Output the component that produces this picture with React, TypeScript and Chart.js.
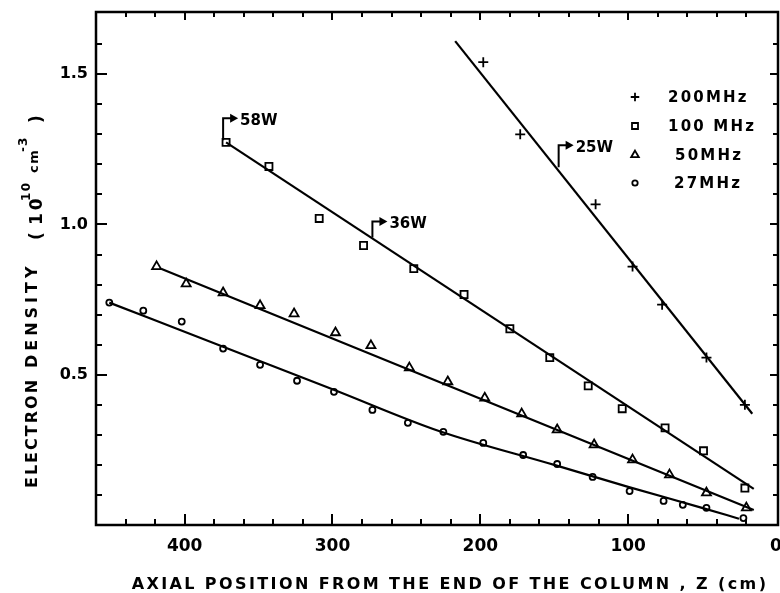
import React, { useEffect, useRef } from 'react';
import { Chart, registerables } from 'chart.js';

Chart.register(...registerables);

const FONT = '"DejaVu Sans", sans-serif';

// ---- series names (legend) ----
const seriesNames = ['200MHz', '100 MHz', '50MHz', '27MHz'];

// ---- 200 MHz (+) ----
const x200 = [198, 173, 122, 97, 77, 47, 21];
const y200 = [1.54, 1.3, 1.067, 0.86, 0.733, 0.557, 0.4];
const fit200X = [217, 16];
const fit200Y = [1.61, 0.37];

// ---- 100 MHz (square) ----
const x100 = [372, 343, 309, 279, 245, 211, 180, 153, 127, 104, 75, 49, 21];
const y100 = [1.273, 1.193, 1.02, 0.93, 0.853, 0.767, 0.653, 0.557, 0.463, 0.387, 0.323, 0.247, 0.123];
const fit100X = [372, 15];
const fit100Y = [1.273, 0.12];

// ---- 50 MHz (triangle) ----
const x50 = [419, 399, 374, 349, 326, 298, 274, 248, 222, 197, 172, 148, 123, 97, 72, 47, 20];
const y50 = [0.86, 0.803, 0.773, 0.73, 0.703, 0.64, 0.597, 0.523, 0.477, 0.423, 0.37, 0.317, 0.267, 0.217, 0.167, 0.107, 0.057];
const fit50X = [416, 15];
const fit50Y = [0.853, 0.05];

// ---- 27 MHz (circle) ----
const x27 = [451, 428, 402, 374, 349, 324, 299, 273, 249, 225, 198, 171, 148, 124, 99, 76, 63, 47, 22];
const y27 = [0.74, 0.713, 0.677, 0.587, 0.533, 0.48, 0.443, 0.383, 0.34, 0.31, 0.273, 0.233, 0.203, 0.16, 0.113, 0.08, 0.067, 0.057, 0.023];
const fit27X = [451, 374, 300, 228, 150, 100, 50, 25];
const fit27Y = [0.74, 0.593, 0.452, 0.313, 0.2, 0.127, 0.057, 0.021];

// ---- power annotations ----
const powerX = [374, 273, 147];
const powerY = [1.28, 0.957, 1.19];
const powerLabels = ['58W', '36W', '25W'];

// ---- ticks ----
const xTickLabels = [0, 100, 200, 300, 400];
const yTickLabels = [0.5, 1.0, 1.5];
const xTickMarks = [20, 40, 60, 80, 100, 120, 140, 160, 180, 200, 220, 240, 260, 280, 300, 320, 340, 360, 380, 400, 420, 440];
const yTickMarks = [0.1, 0.2, 0.3, 0.4, 0.5, 0.6, 0.7, 0.8, 0.9, 1.0, 1.1, 1.2, 1.3, 1.4, 1.5, 1.6];

const xTitle = 'AXIAL POSITION FROM THE END OF THE COLUMN , Z (cm)';
const yTitleParts = ['ELECTRON', 'DENSITY', '(', '10', '10', 'cm', '-3', ')'];

const pointStyles = ['cross', 'rect', 'triangle', 'circle'];
const pointRadii = [5, 5, 5.2, 3];

function pts(xs: number[], ys: number[]) {
  return xs.map((x, i) => ({ x, y: ys[i] }));
}

function drawMarker(ctx: CanvasRenderingContext2D, style: string, x: number, y: number, r: number) {
  ctx.beginPath();
  if (style === 'cross') {
    ctx.moveTo(x - r, y); ctx.lineTo(x + r, y);
    ctx.moveTo(x, y - r); ctx.lineTo(x, y + r);
    ctx.stroke();
    return;
  }
  if (style === 'rect') {
    const s = Math.SQRT1_2 * r;
    ctx.rect(x - s, y - s, 2 * s, 2 * s);
  } else if (style === 'triangle') {
    ctx.moveTo(x, y - r);
    ctx.lineTo(x + r * Math.sin(2 * Math.PI / 3), y - r * Math.cos(2 * Math.PI / 3));
    ctx.lineTo(x + r * Math.sin(4 * Math.PI / 3), y - r * Math.cos(4 * Math.PI / 3));
    ctx.closePath();
  } else {
    ctx.arc(x, y, r, 0, Math.PI * 2);
  }
  ctx.fillStyle = '#fff';
  ctx.fill();
  ctx.stroke();
}

function seg(ctx: CanvasRenderingContext2D, x1: number, y1: number, x2: number, y2: number) {
  ctx.beginPath();
  ctx.moveTo(x1, y1);
  ctx.lineTo(x2, y2);
  ctx.stroke();
}

const decorPlugin = {
  id: 'decor',
  afterDraw(chart: any) {
    const ctx: CanvasRenderingContext2D = chart.ctx;
    const a = chart.chartArea;
    const xs = chart.scales.x;
    const ys = chart.scales.y;
    ctx.save();
    ctx.setLineDash([]);
    ctx.globalAlpha = 1;
    ctx.strokeStyle = '#000';
    ctx.fillStyle = '#000';

    // frame
    ctx.lineWidth = 2.5;
    ctx.strokeRect(a.left, a.top, a.right - a.left, a.bottom - a.top);

    // tick marks (inward, all four sides)
    ctx.lineWidth = 2;
    ctx.lineCap = 'butt';
    xTickMarks.forEach((v) => {
      const px = Math.round(xs.getPixelForValue(v));
      const major = v % 100 === 0;
      seg(ctx, px, a.bottom, px, a.bottom - (major ? 11 : 6));
      seg(ctx, px, a.top, px, a.top + (major ? 8 : 5));
    });
    yTickMarks.forEach((v) => {
      const py = Math.round(ys.getPixelForValue(v));
      const major = Math.abs(v * 2 - Math.round(v * 2)) < 1e-6;
      seg(ctx, a.left, py, a.left + (major ? 11 : 6), py);
      seg(ctx, a.right, py, a.right - (major ? 8 : 5), py);
    });

    // power annotations
    const rises = [22, 16, 22];
    ctx.lineWidth = 2;
    ctx.font = `bold 15px ${FONT}`;
    ctx.textAlign = 'left';
    ctx.textBaseline = 'middle';
    powerLabels.forEach((lab, i) => {
      const bx = xs.getPixelForValue(powerX[i]);
      const by = ys.getPixelForValue(powerY[i]);
      const ty = by - rises[i];
      ctx.beginPath();
      ctx.moveTo(bx, by); ctx.lineTo(bx, ty); ctx.lineTo(bx + 8, ty);
      ctx.stroke();
      ctx.beginPath();
      ctx.moveTo(bx + 7, ty - 4.5); ctx.lineTo(bx + 15, ty); ctx.lineTo(bx + 7, ty + 4.5);
      ctx.closePath();
      ctx.fill();
      ctx.fillText(lab, bx + 17, ty + 3);
    });

    // legend
    const rowY = [97, 126, 155, 183];
    const textX = [668, 668, 675, 674];
    ctx.lineWidth = 1.8;
    (ctx as any).letterSpacing = '2.2px';
    ctx.font = `bold 15px ${FONT}`;
    seriesNames.forEach((name, i) => {
      ctx.strokeStyle = '#000';
      drawMarker(ctx, pointStyles[i], 635, rowY[i], pointRadii[i] * (i === 3 ? 0.9 : 0.85));
      ctx.fillStyle = '#000';
      ctx.fillText(name, textX[i], rowY[i] + 1);
    });

    // x title
    ctx.font = `bold 16px ${FONT}`;
    (ctx as any).letterSpacing = '2.4px';
    ctx.textAlign = 'center';
    ctx.textBaseline = 'alphabetic';
    ctx.fillText(xTitle, 450, 589);

    // y title (rotated)
    ctx.save();
    ctx.translate(37, 488);
    ctx.rotate(-Math.PI / 2);
    ctx.textAlign = 'left';
    ctx.textBaseline = 'alphabetic';
    const offs = [0, 120, 248, 263, 287, 315, 336, 365];
    const dys = [0, 0, 5, 5, -7, 1, -10, 5];
    const sizes = [16, 16, 17, 17, 12, 13, 12, 17];
    const spacing = [2, 4, 0, 3, 1.5, 1.5, 1, 0];
    yTitleParts.forEach((t, i) => {
      ctx.font = `bold ${sizes[i]}px ${FONT}`;
      (ctx as any).letterSpacing = `${spacing[i]}px`;
      ctx.fillText(t, offs[i], dys[i]);
    });
    ctx.restore();

    ctx.restore();
  },
};

export default function App() {
  const ref = useRef<HTMLCanvasElement | null>(null);

  useEffect(() => {
    if (!ref.current) return;
    Chart.defaults.color = '#000';
    const markerSets = [
      pts(x200, y200),
      pts(x100, y100),
      pts(x50, y50),
      pts(x27, y27),
    ];
    const fitSets = [
      pts(fit200X, fit200Y),
      pts(fit100X, fit100Y),
      pts(fit50X, fit50Y),
      pts(fit27X, fit27Y),
    ];
    const datasets: any[] = [];
    fitSets.forEach((d, i) => {
      datasets.push({
        label: seriesNames[i] + ' fit',
        data: d,
        showLine: true,
        borderColor: '#000',
        borderWidth: 2.2,
        pointRadius: 0,
        cubicInterpolationMode: 'monotone',
        fill: false,
      });
    });
    markerSets.forEach((d, i) => {
      datasets.push({
        label: seriesNames[i],
        data: d,
        showLine: false,
        pointStyle: pointStyles[i],
        pointRadius: pointRadii[i],
        pointBorderWidth: 1.8,
        pointBorderColor: '#000',
        pointBackgroundColor: '#fff',
        borderColor: '#000',
        backgroundColor: '#fff',
      });
    });

    const chart = new Chart(ref.current, {
      type: 'scatter',
      data: { datasets },
      options: {
        animation: false,
        responsive: false,
        layout: { autoPadding: false, padding: { left: 0, right: 2, top: 12, bottom: 0 } },
        plugins: {
          legend: { display: false },
          tooltip: { enabled: false },
          title: { display: false },
        },
        scales: {
          x: {
            type: 'linear',
            reverse: true,
            min: -1.4,
            max: 460,
            grid: { display: false, drawTicks: false, tickLength: 0 },
            border: { display: false },
            afterBuildTicks: (axis: any) => {
              axis.ticks = xTickLabels.map((v) => ({ value: v }));
            },
            afterFit: (s: any) => {
              s.height = 68;
              s.paddingLeft = 0;
              s.paddingRight = 0;
            },
            ticks: {
              font: { family: FONT, size: 17, weight: 'bold' },
              color: '#000',
              padding: 11,
              maxRotation: 0,
              callback: (v: any) => String(v),
            },
          },
          y: {
            type: 'linear',
            min: 0,
            max: 1.707,
            grid: { display: false, drawTicks: false, tickLength: 0 },
            border: { display: false },
            afterBuildTicks: (axis: any) => {
              axis.ticks = yTickLabels.map((v) => ({ value: v }));
            },
            afterFit: (s: any) => {
              s.width = 96;
              s.paddingTop = 0;
              s.paddingBottom = 0;
            },
            ticks: {
              font: { family: FONT, size: 16, weight: 'bold' },
              color: '#000',
              padding: 8,
              callback: (v: any) => Number(v).toFixed(1),
            },
          },
        },
      },
      plugins: [decorPlugin],
    } as any);
    return () => chart.destroy();
  }, []);

  return (
    <div style={{ position: 'fixed', left: 0, top: 0, width: 780, height: 593, background: '#fff' }}>
      <canvas ref={ref} width={780} height={593} style={{ display: 'block', width: 780, height: 593 }} />
    </div>
  );
}
